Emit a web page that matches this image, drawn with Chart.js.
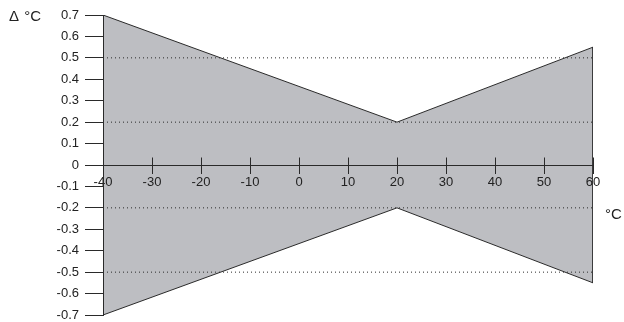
<!DOCTYPE html>
<html>
<head>
<meta charset="utf-8">
<script src="https://cdn.jsdelivr.net/npm/chart.js@4/dist/chart.umd.min.js"></script>
<style>
  html, body { margin: 0; padding: 0; background: #fff; }
  #wrap { position: relative; width: 624px; height: 322px; }
  .lbl { position: absolute; font-family: "Liberation Sans", Arial, sans-serif; font-size: 15px; color: #222; white-space: nowrap; }
</style>
</head>
<body>
<div id="wrap">
  <canvas id="c" width="624" height="322"></canvas>
  <div class="lbl" id="ytitle" style="left:9px; top:7px; word-spacing:2px;">Δ °C</div>
  <div class="lbl" id="xtitle" style="left:605px; top:205px;">°C</div>
</div>
<script>
// Data
const temps = [-40, 20, 60];          // °C break points of the tolerance envelope
const upperDev = [0.7, 0.2, 0.55];     // upper tolerance (Δ °C)
const lowerDev = [-0.7, -0.2, -0.55];  // lower tolerance (Δ °C)
const refLevels = [0.5, 0.2, -0.2, -0.5]; // dotted reference lines
const xTicks = [-40, -30, -20, -10, 0, 10, 20, 30, 40, 50, 60];
const yTicks = [-0.7, -0.6, -0.5, -0.4, -0.3, -0.2, -0.1, 0, 0.1, 0.2, 0.3, 0.4, 0.5, 0.6, 0.7];

const INK = '#2a2a2a';
const FILL = '#bdbec2';
const xMin = xTicks[0], xMax = xTicks[xTicks.length - 1];

const pts = (ys) => temps.map((t, i) => ({ x: t, y: ys[i] }));

const datasets = [];
refLevels.forEach(v => {
  datasets.push({
    data: [{ x: xMin, y: v }, { x: xMax, y: v }],
    borderColor: INK, borderWidth: 1, borderDash: [1, 3],
    pointRadius: 0, fill: false, order: 0
  });
});
datasets.push({
  data: pts(upperDev), borderColor: INK, borderWidth: 1,
  backgroundColor: FILL, fill: '+1', pointRadius: 0, order: 1
});
datasets.push({
  data: pts(lowerDev), borderColor: INK, borderWidth: 1,
  pointRadius: 0, fill: false, order: 1
});
// right vertical edge of the envelope
const last = temps.length - 1;
datasets.push({
  data: [{ x: temps[last], y: upperDev[last] }, { x: temps[last], y: lowerDev[last] }],
  borderColor: INK, borderWidth: 1, pointRadius: 0, fill: false, order: 1
});

const upperTicks = {
  id: 'upperTicks',
  afterDraw(chart) {
    const xs = chart.scales.x, ys = chart.scales.y;
    const y0 = Math.round(ys.getPixelForValue(0)) + 0.5;
    const ctx = chart.ctx;
    ctx.save();
    ctx.strokeStyle = INK; ctx.lineWidth = 1;
    xTicks.forEach(v => {
      const px = Math.round(xs.getPixelForValue(v)) + 0.5;
      ctx.beginPath(); ctx.moveTo(px, y0 - 8); ctx.lineTo(px, y0); ctx.stroke();
    });
    ctx.restore();
  }
};

new Chart(document.getElementById('c'), {
  type: 'line',
  data: { datasets },
  plugins: [upperTicks],
  options: {
    responsive: false,
    animation: false,
    layout: { padding: { left: 0, right: 31, top: 15, bottom: 7 } },
    plugins: {
      legend: { display: false },
      tooltip: { enabled: false },
      filler: { drawTime: 'beforeDatasetsDraw' }
    },
    scales: {
      x: {
        type: 'linear', min: xMin, max: xMax,
        position: { y: 0 },
        afterBuildTicks: s => { s.ticks = xTicks.map(v => ({ value: v })); },
        grid: { drawOnChartArea: false, drawTicks: true, tickLength: 8, tickColor: INK, z: 1 },
        border: { display: true, color: INK, width: 1, z: 1 },
        ticks: {
          z: 1,
          color: '#222', padding: 2, maxRotation: 0, autoSkip: false,
          font: { family: '"Liberation Sans", Arial, sans-serif', size: 13 },
          callback: v => String(v)
        }
      },
      y: {
        type: 'linear', min: yTicks[0], max: yTicks[yTicks.length - 1],
        position: 'left',
        afterBuildTicks: s => { s.ticks = yTicks.map(v => ({ value: v })); },
        afterFit: s => { s.width = 103; s.paddingTop = 0; s.paddingBottom = 0; },
        grid: { drawOnChartArea: false, drawTicks: true, tickLength: 18, tickColor: INK, z: 1 },
        border: { display: true, color: INK, width: 1, z: 1 },
        ticks: {
          z: 1,
          color: '#222', padding: 6, autoSkip: false,
          font: { family: '"Liberation Sans", Arial, sans-serif', size: 13 },
          callback: v => (Math.abs(v) < 1e-9 ? '0' : Number(v).toFixed(1))
        }
      }
    }
  }
});
</script>
</body>
</html>
